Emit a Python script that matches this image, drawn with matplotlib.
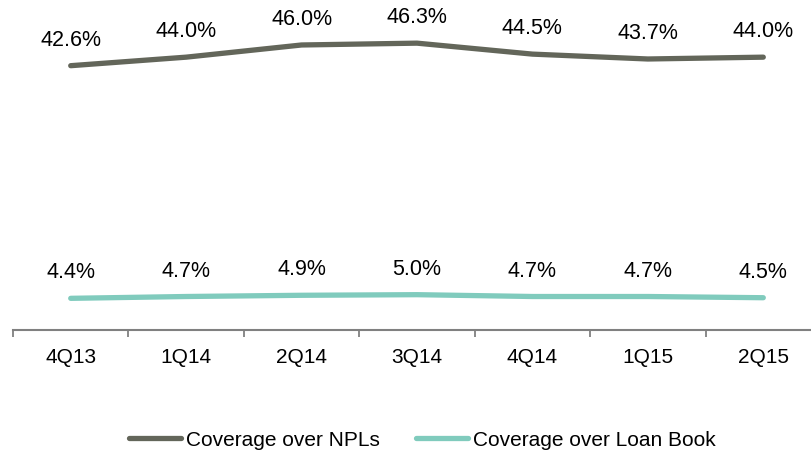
import matplotlib.pyplot as plt
import numpy as np

# datos del grafico
trimestres = ['4Q13', '1Q14', '2Q14', '3Q14', '4Q14', '1Q15', '2Q15']
cob_npl = [42.6, 44.0, 46.0, 46.3, 44.5, 43.7, 44.0]
cob_loan = [4.4, 4.7, 4.9, 5.0, 4.7, 4.7, 4.5]

gris = '#63665a'
verde = '#80cbbd'

plt.rcParams['font.family'] = ['Liberation Sans', 'DejaVu Sans']

fig = plt.figure(figsize=(8.12, 4.56), dpi=100)
ax = fig.add_axes([13/812, 1 - 331/456, 808/812, 331/456])

x = np.arange(len(trimestres))
ax.plot(x, cob_npl, color=gris, lw=3.8, solid_capstyle='round', label='Coverage over NPLs')
ax.plot(x, cob_loan, color=verde, lw=3.8, solid_capstyle='round', label='Coverage over Loan Book')

for i in range(len(x)):
    ax.annotate('%.1f%%' % cob_npl[i], (x[i], cob_npl[i]), xytext=(0, 19),
                textcoords='offset points', ha='center', va='center', fontsize=15.5)
    ax.annotate('%.1f%%' % cob_loan[i], (x[i], cob_loan[i]), xytext=(0, 19),
                textcoords='offset points', ha='center', va='center', fontsize=15.5)

ax.set_xlim(-0.5, 6.5)
ax.set_ylim(-0.8, 53.55)
ax.set_xticks(x)
ax.set_xticklabels(trimestres, fontsize=15)
ax.set_xticks(np.arange(-0.5, 7, 1), minor=True)
ax.tick_params(axis='x', which='major', length=0, pad=12)
ax.tick_params(axis='x', which='minor', length=5, width=1.3, color='#808080', direction='out')
ax.set_yticks([])
for s in ['top', 'right', 'left']:
    ax.spines[s].set_visible(False)
ax.spines['bottom'].set_color('#808080')
ax.spines['bottom'].set_linewidth(1.5)

fig.legend(loc='center', bbox_to_anchor=(0.520, 0.033), ncol=2, frameon=False,
           fontsize=15, handlelength=2.5, handletextpad=0.25, columnspacing=1.7)

plt.savefig('out.png', dpi=100)
